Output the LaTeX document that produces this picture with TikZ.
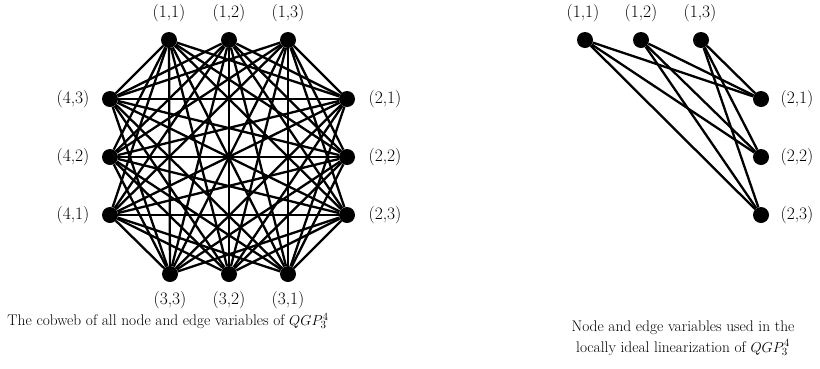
\documentclass[tikz,border=0pt]{standalone}
\begin{document}
\begin{tikzpicture}[x=1pt,y=-1pt,
  dot/.style={circle,fill=black,inner sep=0pt,minimum size=16pt},
  lbl/.style={font=\fontsize{17.5}{20}\selectfont,inner sep=0pt},
  capbox/.style={font=\fontsize{15.4}{18}\selectfont,inner sep=0pt,align=center},
  edgeline/.style={line width=2.3pt}]
\useasboundingbox (0,0) rectangle (820,368);
% left graph nodes
\node[dot] (L11) at (169,40) {};
\node[dot] (L12) at (229,40) {};
\node[dot] (L13) at (288,40) {};
\node[dot] (L21) at (347,99) {};
\node[dot] (L22) at (347,157) {};
\node[dot] (L23) at (347,215) {};
\node[dot] (L33) at (170,274) {};
\node[dot] (L32) at (229,274) {};
\node[dot] (L31) at (288,274) {};
\node[dot] (L43) at (110,99) {};
\node[dot] (L42) at (110,157) {};
\node[dot] (L41) at (110,215) {};
\foreach \g/\h in {1/2,1/3,1/4,2/3,2/4,3/4}
  \foreach \i in {1,2,3}
    \foreach \j in {1,2,3}
      \draw[edgeline] (L\g\i) -- (L\h\j);
% left labels
\node[lbl] (t11) at (169,13) {(1,1)};
\node[lbl] (t12) at (229,13) {(1,2)};
\node[lbl] (t13) at (288,13) {(1,3)};
\node[lbl] (t21) at (385,99) {(2,1)};
\node[lbl] (t22) at (385,157) {(2,2)};
\node[lbl] (t23) at (385,215) {(2,3)};
\node[lbl] (t33) at (170,300) {(3,3)};
\node[lbl] (t32) at (229,300) {(3,2)};
\node[lbl] (t31) at (288,300) {(3,1)};
\node[lbl] (t43) at (73,99) {(4,3)};
\node[lbl] (t42) at (73,157) {(4,2)};
\node[lbl] (t41) at (73,215) {(4,1)};
% right graph
\node[dot] (R11) at (585,40) {};
\node[dot] (R12) at (641,40) {};
\node[dot] (R13) at (701,40) {};
\node[dot] (R21) at (761,99) {};
\node[dot] (R22) at (761,157) {};
\node[dot] (R23) at (761,215) {};
\foreach \i in {1,2,3}
  \foreach \j in {1,2,3}
    \draw[edgeline] (R1\i) -- (R2\j);
\node[lbl] (s11) at (583,13) {(1,1)};
\node[lbl] (s12) at (641,13) {(1,2)};
\node[lbl] (s13) at (700,13) {(1,3)};
\node[lbl] (s21) at (797,99) {(2,1)};
\node[lbl] (s22) at (797,157) {(2,2)};
\node[lbl] (s23) at (797,215) {(2,3)};
% captions
\node[capbox] (c1) at (168,321) {The cobweb of all node and edge variables of $QGP_3^4$};
\node[capbox] (c2) at (683,338) {Node and edge variables used in the\\[3pt] locally ideal linearization of $QGP_3^4$};
\end{tikzpicture}
\end{document}
